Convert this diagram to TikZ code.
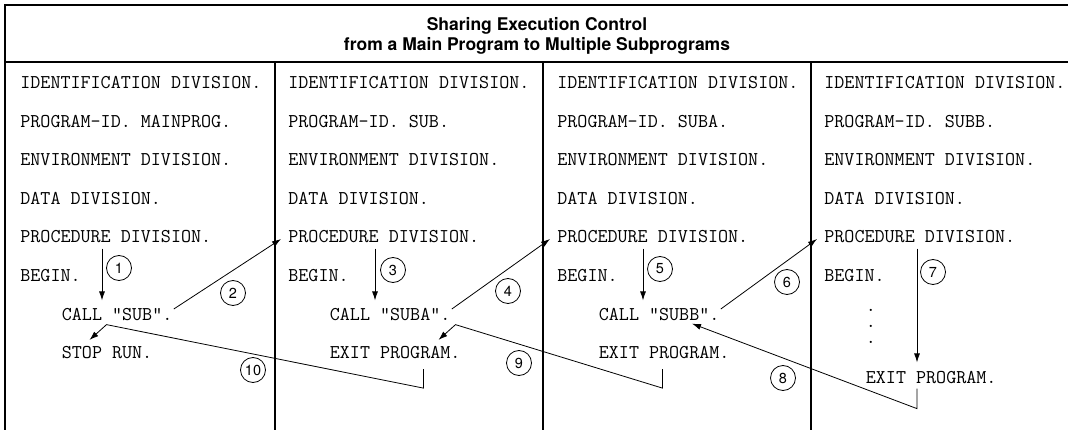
\documentclass[tikz,border=0pt]{standalone}
\usepackage{fontspec}
\newfontfamily\heros{TeX Gyre Heros}
\usetikzlibrary{arrows.meta,calc}
\newcommand\codefont{\fontsize{19.5}{22}\selectfont\ttfamily}
\newcommand\dotsfont{\fontsize{19.5}{16}\selectfont\ttfamily}
\newcommand\numfont{\fontsize{14.5}{16}\selectfont\heros}
\newcommand\headfont{\fontsize{17.5}{20}\selectfont\heros\bfseries}
\tikzset{>={Latex[length=9pt,width=6pt]}, every path/.style={black,line width=0.8pt}}
\tikzset{code/.style={anchor=base west, inner sep=0pt, font=\codefont},
         num/.style={draw, circle, minimum size=25pt, inner sep=0pt, font=\numfont},
         frame/.style={line width=1.5pt}}

\begin{document}
\begin{tikzpicture}[x=1pt,y=-1pt]
     \useasboundingbox (0,0) rectangle (1068,430);
     \draw[frame] (5,430) -- (5,5) -- (1068,5);
     \draw[frame] (5,62) -- (1068,62);
     \draw[frame] (275,62) -- (275,430);
     \draw[frame] (543,62) -- (543,430);
     \draw[frame] (811,62) -- (811,430);
     \node[anchor=north, align=center, inner sep=0pt, font=\headfont] (head) at (537,17.5)
       {Sharing Execution Control\\from a Main Program to Multiple Subprograms};
     \begin{scope}
      \node[code] (mid)   at (20,89)    {IDENTIFICATION DIVISION.};
      \node[code] (mpid)  at (20,127.5) {PROGRAM-ID. MAINPROG.};
      \node[code] (menv)  at (20,166)   {ENVIRONMENT DIVISION.};
      \node[code] (mdata) at (20,204.5) {DATA DIVISION.};
      \node[code] (mproc) at (20,243)   {PROCEDURE DIVISION.};
      \node[code] (mbeg)  at (20,281.5) {BEGIN.};
      \node[code] (mcall) at (61.5,320) {CALL "SUB".};
      \node[code] (mstop) at (61.5,358.5) {STOP RUN.};
     \end{scope}
     \begin{scope}[xshift=268pt]
      \node[code] (sid)   at (20,89)    {IDENTIFICATION DIVISION.};
      \node[code] (spid)  at (20,127.5) {PROGRAM-ID. SUB.};
      \node[code] (senv)  at (20,166)   {ENVIRONMENT DIVISION.};
      \node[code] (sdata) at (20,204.5) {DATA DIVISION.};
      \node[code] (sproc) at (20,243)   {PROCEDURE DIVISION.};
      \node[code] (sbeg)  at (20,281.5) {BEGIN.};
      \node[code] (scall) at (61.5,320) {CALL "SUBA".};
      \node[code] (sexit) at (61.5,358.5) {EXIT PROGRAM.};
     \end{scope}
     \begin{scope}[xshift=537pt]
      \node[code] (aid)   at (20,89)    {IDENTIFICATION DIVISION.};
      \node[code] (apid)  at (20,127.5) {PROGRAM-ID. SUBA.};
      \node[code] (aenv)  at (20,166)   {ENVIRONMENT DIVISION.};
      \node[code] (adata) at (20,204.5) {DATA DIVISION.};
      \node[code] (aproc) at (20,243)   {PROCEDURE DIVISION.};
      \node[code] (abeg)  at (20,281.5) {BEGIN.};
      \node[code] (acall) at (61.5,320) {CALL "SUBB".};
      \node[code] (aexit) at (61.5,358.5) {EXIT PROGRAM.};
     \end{scope}
     \begin{scope}[xshift=804pt]
      \node[code] (bid)   at (20,89)    {IDENTIFICATION DIVISION.};
      \node[code] (bpid)  at (20,127.5) {PROGRAM-ID. SUBB.};
      \node[code] (benv)  at (20,166)   {ENVIRONMENT DIVISION.};
      \node[code] (bdata) at (20,204.5) {DATA DIVISION.};
      \node[code] (bproc) at (20,243)   {PROCEDURE DIVISION.};
      \node[code] (bbeg)  at (20,281.5) {BEGIN.};
      \node[code, anchor=north west, align=left, font=\dotsfont] (bdots) at (61.5,309) {.\\.\\.};
      \node[code] (bexit) at (61.5,383) {EXIT PROGRAM.};
     \end{scope}
     % calls down into each program
     \draw[->] ($(mproc.south west)+(82,5)$) -- ($(mcall.north west)+(40.5,-7)$);
     \draw[->] ($(mcall.east)+(1,-5)$) -- ($(sproc.west)+(-7,2)$);
     \draw[->] ($(sproc.south west)+(87,5)$) -- ($(scall.north west)+(45.5,-7)$);
     \draw[->] ($(scall.east)+(1,-5)$) -- ($(aproc.west)+(-7,2)$);
     \draw[->] ($(aproc.south west)+(86,5)$) -- ($(acall.north west)+(44.5,-7)$);
     \draw[->] ($(acall.east)+(1,-5)$) -- ($(bproc.west)+(-7,2)$);
     \draw[->] ($(bproc.south west)+(93,5)$) -- ($(bexit.north west)+(51.5,-8)$);
     % returns
     \draw[->] ($(bexit.south west)+(51.5,5)$) -- ++(0,20) -- ($(acall.south west)+(93.5,3)$);
     \draw[->] ($(aexit.south west)+(64,10)$) -- ++(0,19) -- ($(scall.south west)+(126,4)$)
       -- ($(sexit.north west)+(109,-6)$);
     \draw[->] ($(sexit.south west)+(94,10)$) -- ++(0,19) -- ($(mcall.south west)+(45,4)$)
       -- ($(mstop.north west)+(28,-6)$);
     \node[num] (n1)  at (119,268) {1};
     \node[num] (n2)  at (233,293) {2};
     \node[num] (n3)  at (393,270) {3};
     \node[num] (n4)  at (508,291) {4};
     \node[num] (n5)  at (660,269) {5};
     \node[num] (n6)  at (787,282) {6};
     \node[num] (n7)  at (933,272) {7};
     \node[num] (n8)  at (783,378) {8};
     \node[num] (n9)  at (519,363) {9};
     \node[num] (n10) at (253,370) {10};
    \end{tikzpicture}
\end{document}
